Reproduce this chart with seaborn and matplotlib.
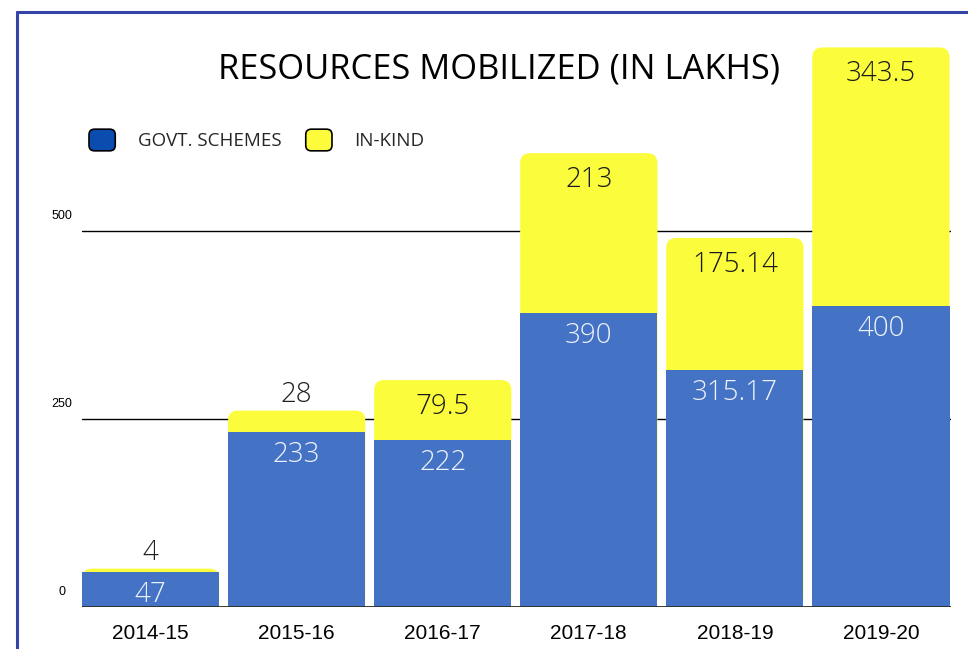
import numpy as np
import pandas as pd
import matplotlib
matplotlib.use("Agg")
import matplotlib.pyplot as plt
import matplotlib.patches as mpatches
import matplotlib.transforms as mtransforms
from matplotlib.lines import Line2D
from matplotlib.legend_handler import HandlerPatch
import seaborn as sns

# Dados do gráfico
years = ["2014-15", "2015-16", "2016-17", "2017-18", "2018-19", "2019-20"]
govt_schemes = [47, 233, 222, 390, 315.17, 400]
in_kind = [4, 28, 79.5, 213, 175.14, 343.5]
govt_labels = ["47", "233", "222", "390", "315.17", "400"]
kind_labels = ["4", "28", "79.5", "213", "175.14", "343.5"]
y_ticks = [0, 250, 500]

BLUE = "#4472C4"
YELLOW = "#FBFD3C"
LEG_BLUE = "#0B4DAF"
LEG_YELLOW = "#FCFC3C"

df = pd.DataFrame({"year": years, "govt": govt_schemes, "kind": in_kind})
df["total"] = df["govt"] + df["kind"]

sns.set_style("white")
plt.rcParams["font.family"] = ["Open Sans", "DejaVu Sans"]

fig = plt.figure(figsize=(9.68, 6.49), dpi=100)
ax = fig.add_axes([82 / 968, 1 - 607 / 649, 869 / 968, 572 / 649])

# Barras empilhadas: total (amarelo) por baixo, governo (azul) por cima
sns.barplot(data=df, x="year", y="total", color=YELLOW, saturation=1,
            width=0.94, linewidth=0, ax=ax, zorder=2)
sns.barplot(data=df, x="year", y="govt", color=BLUE, saturation=1,
            width=0.94, linewidth=0, ax=ax, zorder=3)

ax.set_xlim(-0.47, 5.48)
ax.set_ylim(0, 760)
for s in ax.spines.values():
    s.set_visible(False)

# Cantos arredondados nas barras amarelas
bb = ax.get_window_extent()
xpp = (ax.get_xlim()[1] - ax.get_xlim()[0]) / bb.width
ypp = (ax.get_ylim()[1] - ax.get_ylim()[0]) / bb.height
radius_px = 10
for p in ax.containers[0]:
    x0, y0 = p.get_x(), p.get_y()
    w, h = p.get_width(), p.get_height()
    p.set_visible(False)
    r = min(radius_px, h / ypp / 2) * xpp
    fb = mpatches.FancyBboxPatch((x0, y0), w, h,
                                 boxstyle=f"round,pad=0,rounding_size={r}",
                                 mutation_aspect=ypp / xpp,
                                 facecolor=YELLOW, edgecolor="none", zorder=2)
    ax.add_patch(fb)

# Linhas de grade e linha de base
for v in y_ticks[1:]:
    ax.axhline(v, color="black", lw=1, zorder=1)
ax.axhline(0, color="#2d2d22", lw=1.3, zorder=4)

ax.set_yticks([])
ax.set_xlabel("")
ax.set_ylabel("")
ax.tick_params(axis="x", length=0, pad=12)
for lab in ax.get_xticklabels():
    lab.set_fontfamily("Liberation Sans")
    lab.set_fontsize(15)
    lab.set_color("black")

# Rótulos do eixo y acima das linhas
trans = mtransforms.blended_transform_factory(ax.transAxes, ax.transData)
off = mtransforms.ScaledTranslation(0, 15 / 100, fig.dpi_scale_trans)
for v in y_ticks:
    ax.text(-0.023, v, str(v), transform=trans + off, ha="center", va="center",
            fontsize=9, family="Liberation Sans", color="black")

# Rótulos de valores
for i, row in df.iterrows():
    ax.annotate(govt_labels[i], (i, row["govt"]), xytext=(0, -23 * 0.72),
                textcoords="offset points", ha="center", va="center",
                fontsize=20, fontweight="light", color="#EEF2FA", zorder=5)
    h_px = row["kind"] / ypp
    if h_px > 40:
        dy = -min(27, h_px / 2)
        col = "#1a1a1a"
    else:
        dy = 16
        col = "#222222"
    ax.annotate(kind_labels[i], (i, row["total"]), xytext=(0, dy * 0.72),
                textcoords="offset points", ha="center", va="center",
                fontsize=20, fontweight="light", color=col, zorder=5)

# Título
fig.text(499 / 968, 1 - 69 / 649, "RESOURCES MOBILIZED (IN LAKHS)",
         ha="center", va="center", fontsize=24.8, color="black")


# Legenda com quadrados arredondados
def rounded_square(legend, orig_handle, xdescent, ydescent, width, height, fontsize):
    return mpatches.FancyBboxPatch((-xdescent, -ydescent), width, height,
                                   boxstyle="round,pad=0,rounding_size=4")


handles = [mpatches.Patch(facecolor=LEG_BLUE, edgecolor="black", lw=1.2),
           mpatches.Patch(facecolor=LEG_YELLOW, edgecolor="black", lw=1.2)]
hmap = {h: HandlerPatch(patch_func=rounded_square) for h in handles}
fig.legend(handles, ["GOVT. SCHEMES", "IN-KIND"], handler_map=hmap,
           loc="center left", bbox_to_anchor=(89 / 968, 1 - 140 / 649),
           ncol=2, frameon=False, fontsize=13.5, borderpad=0, borderaxespad=0,
           handlelength=1.4, handleheight=1.4, handletextpad=1.2,
           columnspacing=1.3)

# Moldura azul (esquerda e topo)
fig.add_artist(Line2D([16.5 / 968, 16.5 / 968], [0, 1 - 11.5 / 649],
                      color="#3343A8", lw=2.2, transform=fig.transFigure))
fig.add_artist(Line2D([16.5 / 968, 1], [1 - 11.5 / 649, 1 - 11.5 / 649],
                      color="#3343A8", lw=2.2, transform=fig.transFigure))

fig.savefig("out.png", dpi=100)
